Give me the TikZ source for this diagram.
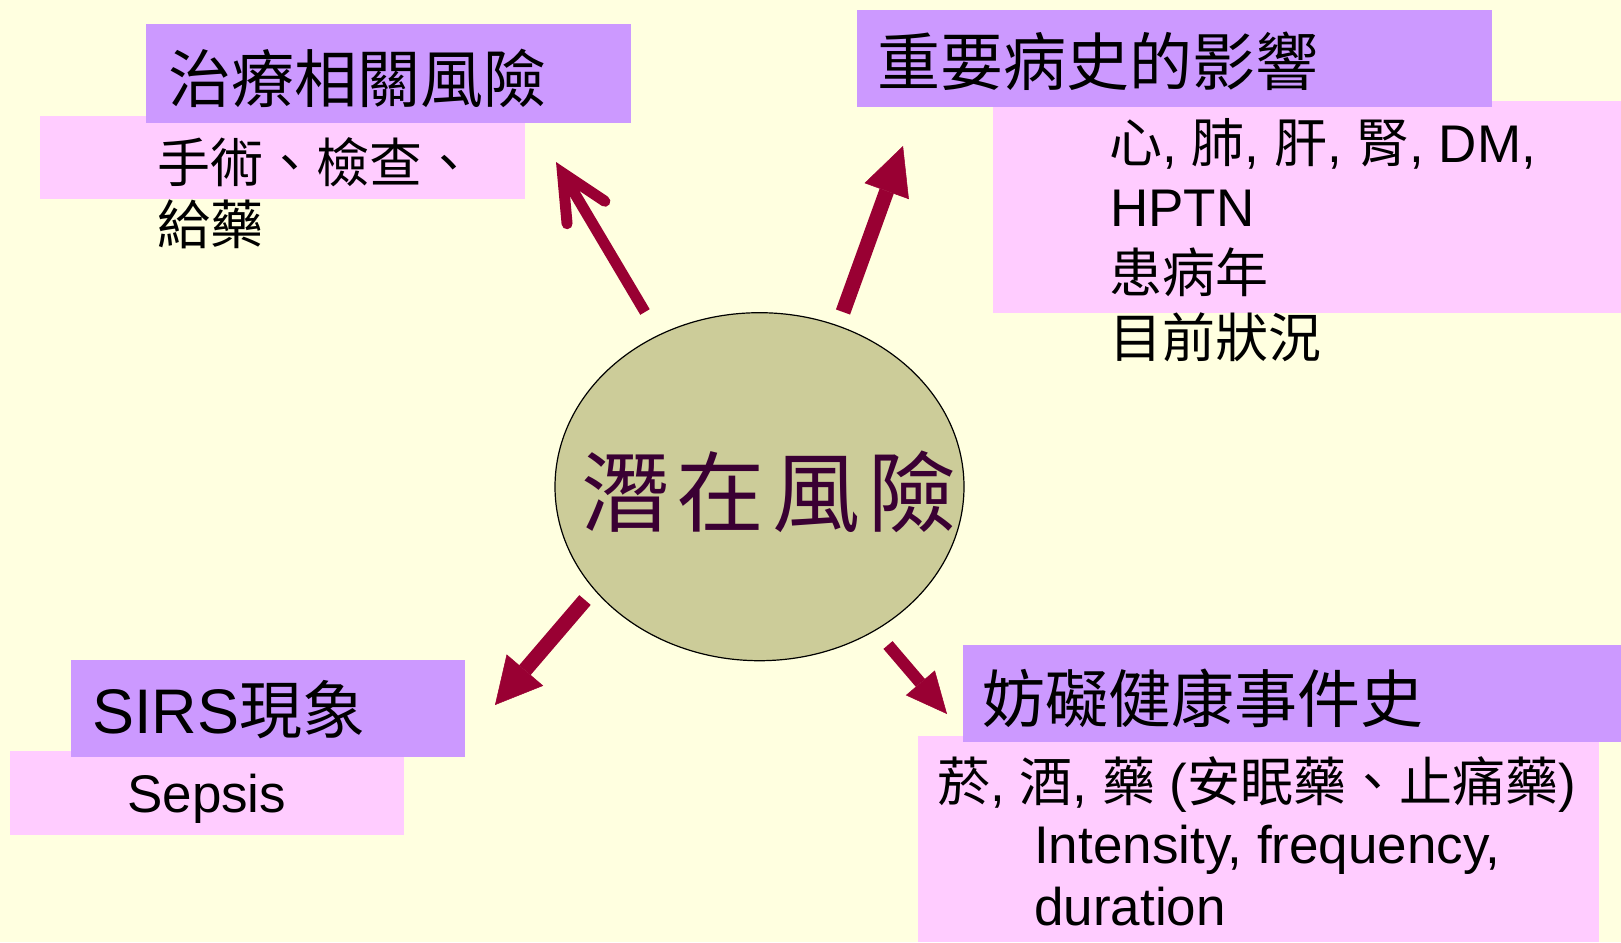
\documentclass[tikz,border=0pt]{standalone}
\usepackage{fontspec}
\setmainfont{Liberation Sans}
\newfontfamily\cjk{Noto Sans CJK TC}
\usetikzlibrary{arrows.meta,shapes.geometric}
\definecolor{bgc}{HTML}{FFFFE0}
\definecolor{lilac}{HTML}{CC99FF}
\definecolor{pinkc}{HTML}{FFCCFF}
\definecolor{olivec}{HTML}{CCCC99}
\definecolor{arrowc}{HTML}{990033}
\definecolor{plumc}{HTML}{3A0033}
\newcommand\zh[1]{{\cjk #1}}
\tikzset{
  headbox/.style={fill=lilac},
  bodybox/.style={fill=pinkc},
  ttl/.style={anchor=base west, inner sep=0pt, font=\fontsize{63}{63}\selectfont},
  bdy/.style={anchor=base west, inner sep=0pt, font=\fontsize{53}{53}\selectfont},
  riskarrow/.style={draw=arrowc, line width=#1},
  tri/.style n args={2}{-{Triangle[length=#1,width=#2,line width=0.5pt]}},
}
\begin{document}
\begin{tikzpicture}[x=1pt,y=-1pt]
\useasboundingbox (0,0) rectangle (1621,942);
\fill[bgc] (0,0) rectangle (1621,942);
% top-left
\fill[bodybox] (40,116) rectangle (525,199);
\fill[headbox] (146,24) rectangle (631,123);
\node[ttl] (t1) at (168,102.5) {\zh{治療相關風險}};
\node[bdy] (b1a) at (157,182) {\zh{手術、檢查、}};
\node[bdy] (b1b) at (157,244) {\zh{給藥}};
% top-right
\fill[bodybox] (993,101) rectangle (1621,313);
\fill[headbox] (857,10) rectangle (1492,107);
\node[ttl] (t2) at (877,85.5) {\zh{重要病史的影響}};
\node[bdy] (b2a) at (1109,162) {\zh{心}, \zh{肺}, \zh{肝}, \zh{腎}, DM,};
\node[bdy] (b2b) at (1110,226) {HPTN};
\node[bdy] (b2c) at (1109,292) {\zh{患病年}};
\node[bdy] (b2d) at (1109,357) {\zh{目前狀況}};
% bottom-left
\fill[bodybox] (10,751) rectangle (404,835);
\fill[headbox] (71,660) rectangle (465,757);
\node[ttl] (t3) at (92,733) {SIRS\zh{現象}};
\node[bdy] (b3) at (127,812) {Sepsis};
% bottom-right
\fill[bodybox] (918,736) rectangle (1599,942);
\fill[headbox] (963,645) rectangle (1621,742);
\node[ttl] (t4) at (982,722.5) {\zh{妨礙健康事件史}};
\node[bdy] (b4a) at (937,801) {\zh{菸}, \zh{酒}, \zh{藥} (\zh{安眠藥、止痛藥})};
\node[bdy] (b4b) at (1034,863) {Intensity, frequency,};
\node[bdy] (b4c) at (1034,925) {duration};
% center
\node[ellipse, draw=black, line width=1.2pt, fill=olivec, minimum width=409pt, minimum height=348pt, inner sep=0pt] (c) at (759.5,486.7) {};
\node[anchor=base, inner sep=0pt, text=plumc, font=\fontsize{88}{88}\selectfont\cjk] (ct) at (769,525.5) {潛\kern8pt 在\kern8pt 風\kern8pt 險};
% arrows
\coordinate (a1s) at (645,312); \coordinate (a1e) at (556,162);
\coordinate (a2s) at (843,312); \coordinate (a2e) at (903,146);
\coordinate (a3s) at (585,600); \coordinate (a3e) at (495,705);
\coordinate (a4s) at (888,645); \coordinate (a4e) at (947,714);
\draw[riskarrow=11pt, -{Straight Barb[length=46pt,width=44pt,line cap=round,line join=miter]}] (a1s) -- (a1e);
\draw[riskarrow=15pt, tri={48pt}{47pt}] (a2s) -- (a2e);
\draw[riskarrow=15pt, tri={46pt}{48pt}] (a3s) -- (a3e);
\draw[riskarrow=12pt, tri={41pt}{38pt}] (a4s) -- (a4e);
\end{tikzpicture}
\end{document}
